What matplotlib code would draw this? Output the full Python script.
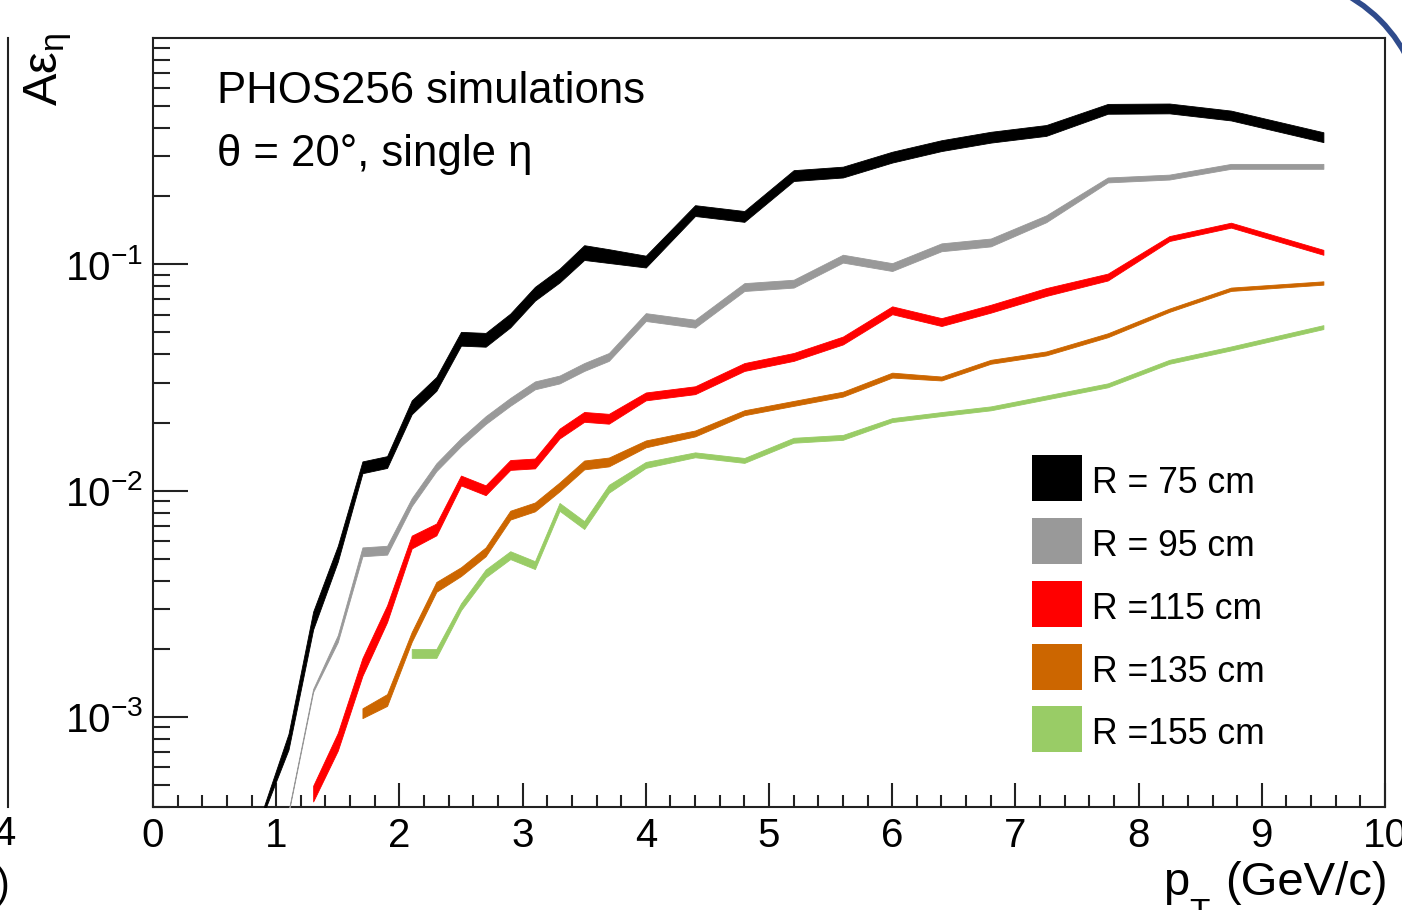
import numpy as np
import matplotlib
matplotlib.use("Agg")
import matplotlib.pyplot as plt
from matplotlib.ticker import FixedLocator, FixedFormatter, LogLocator, NullFormatter, MultipleLocator
from matplotlib.patches import Rectangle, Arc

plt.rcParams['font.family'] = ['Liberation Sans', 'DejaVu Sans']
plt.rcParams['mathtext.fontset'] = 'custom'
plt.rcParams['mathtext.rm'] = 'Liberation Sans'
plt.rcParams['mathtext.it'] = 'Liberation Sans'
plt.rcParams['mathtext.bf'] = 'Liberation Sans:bold'
plt.rcParams['mathtext.sf'] = 'Liberation Sans'

nan = np.nan

# ---------------- data ----------------
pt = [0.9, 1.1, 1.3, 1.5, 1.7, 1.9, 2.1, 2.3, 2.5, 2.7, 2.9, 3.1, 3.3, 3.5, 3.7,
      4.0, 4.4, 4.8, 5.2, 5.6, 6.0, 6.4, 6.8, 7.25, 7.75, 8.25, 8.75, 9.5]

eff_R75 = [3.9e-4, 7.8e-4, 2.68e-3, 5.28e-3, 0.0127, 0.0134, 0.0234, 0.0297, 0.047, 0.0465,
           0.0566, 0.0743, 0.0894, 0.113, 0.109, 0.103, 0.173, 0.163, 0.247, 0.256,
           0.298, 0.335, 0.365, 0.391, 0.487, 0.489, 0.455, 0.365]
err_R75 = [0.03, 0.08, 0.09, 0.08, 0.06, 0.06, 0.07, 0.07, 0.07, 0.07,
           0.07, 0.07, 0.07, 0.075, 0.07, 0.06, 0.055, 0.055, 0.055, 0.055,
           0.055, 0.055, 0.055, 0.055, 0.05, 0.05, 0.05, 0.05]

eff_R95 = [nan, 3.8e-4, 1.31e-3, 2.22e-3, 5.37e-3, 5.46e-3, 8.9e-3, 0.0127, 0.0164, 0.0205,
           0.0247, 0.0292, 0.031, 0.0352, 0.039, 0.0585, 0.0547, 0.0794, 0.0822, 0.106,
           0.0973, 0.119, 0.125, 0.159, 0.236, 0.243, 0.271, 0.271]
err_R95 = [nan, 0.01, 0.015, 0.035, 0.045, 0.045, 0.04, 0.04, 0.04, 0.04,
           0.04, 0.04, 0.04, 0.04, 0.04, 0.04, 0.04, 0.04, 0.04, 0.04,
           0.04, 0.04, 0.04, 0.035, 0.025, 0.025, 0.025, 0.025]

eff_R115 = [nan, nan, 4.6e-4, 7.8e-4, 1.67e-3, 2.87e-3, 5.94e-3, 6.75e-3, 0.0111, 0.01005,
            0.013, 0.0132, 0.0179, 0.0212, 0.0208, 0.0261, 0.0278, 0.0352, 0.039, 0.0461,
            0.0627, 0.0556, 0.0637, 0.0755, 0.0879, 0.130, 0.149, 0.113]
err_R115 = [nan, nan, 0.08, 0.09, 0.09, 0.085, 0.065, 0.06, 0.05, 0.05,
            0.05, 0.05, 0.05, 0.05, 0.05, 0.04, 0.04, 0.04, 0.04, 0.04,
            0.04, 0.04, 0.04, 0.04, 0.035, 0.025, 0.025, 0.025]

eff_R135 = [nan, nan, nan, nan, 1.04e-3, 1.19e-3, 2.26e-3, 3.76e-3, 4.39e-3, 5.37e-3,
            7.8e-3, 8.48e-3, 0.0104, 0.013, 0.0134, 0.0161, 0.0179, 0.0221, 0.0243, 0.0267,
            0.0324, 0.0313, 0.0371, 0.0404, 0.0486, 0.0627, 0.0776, 0.0827]
err_R135 = [nan, nan, nan, nan, 0.05, 0.06, 0.05, 0.05, 0.045, 0.045,
            0.045, 0.045, 0.045, 0.045, 0.045, 0.035, 0.03, 0.025, 0.025, 0.025,
            0.025, 0.02, 0.02, 0.02, 0.02, 0.017, 0.017, 0.017]

eff_R155 = [nan, nan, nan, nan, nan, nan, 1.91e-3, 1.91e-3, 3.07e-3, 4.31e-3,
            5.19e-3, 4.69e-3, 8.48e-3, 7.05e-3, 0.0102, 0.013, 0.0144, 0.0136, 0.0167, 0.0172,
            0.0205, 0.0218, 0.0231, 0.0258, 0.0292, 0.0371, 0.0425, 0.0528]
err_R155 = [nan, nan, nan, nan, nan, nan, 0.045, 0.045, 0.035, 0.04,
            0.04, 0.04, 0.04, 0.04, 0.04, 0.03, 0.025, 0.025, 0.025, 0.025,
            0.02, 0.02, 0.02, 0.02, 0.02, 0.02, 0.02, 0.02]

labels = ["R = 75 cm", "R = 95 cm", "R =115 cm", "R =135 cm", "R =155 cm"]
colors = ["#000000", "#999999", "#ff0000", "#cc6600", "#99cc66"]
series = [(eff_R75, err_R75), (eff_R95, err_R95), (eff_R115, err_R115),
          (eff_R135, err_R135), (eff_R155, err_R155)]

y_major = [1e-3, 1e-2, 1e-1]
y_major_labels = [r"$10^{-3}$", r"$10^{-2}$", r"$10^{-1}$"]
x_major = [0, 1, 2, 3, 4, 5, 6, 7, 8, 9, 10]

# ---------------- figure ----------------
W, H = 1402, 910
fig = plt.figure(figsize=(W / 100, H / 100), dpi=100)
fig.patch.set_facecolor("white")

ax = fig.add_axes([153 / W, 1 - 807 / H, (1385 - 153) / W, (807 - 38) / H])
ax.set_yscale("log")
ax.set_xlim(0, 10)
ax.set_ylim(4.0e-4, 1.0)

x = np.array(pt)
for (eff, err), c in zip(series, colors):
    v = np.array(eff, dtype=float)
    e = np.array(err, dtype=float)
    m = ~np.isnan(v)
    ax.fill_between(x[m], v[m] * (1 - e[m]), v[m] * (1 + e[m]),
                    facecolor=c, edgecolor=c, linewidth=0.6, zorder=3)

for s in ax.spines.values():
    s.set_linewidth(1.5)
    s.set_color("#222222")

ax.xaxis.set_major_locator(FixedLocator(x_major))
ax.xaxis.set_minor_locator(MultipleLocator(0.2))
ax.yaxis.set_major_locator(FixedLocator(y_major))
ax.yaxis.set_major_formatter(FixedFormatter(y_major_labels))
ax.yaxis.set_minor_locator(LogLocator(base=10, subs=np.arange(2, 10), numticks=20))
ax.yaxis.set_minor_formatter(NullFormatter())

ax.tick_params(axis="both", which="both", direction="in", top=False, right=False,
               colors="#222222", labelcolor="black", width=1.5, labelsize=29)
ax.tick_params(axis="x", which="major", length=17.3, pad=7)
ax.tick_params(axis="x", which="minor", length=8.6)
ax.tick_params(axis="y", which="major", length=25.2, pad=7)
ax.tick_params(axis="y", which="minor", length=12.2)

# texts inside the frame
ax.text(217 / W, 1 - 103 / H, "PHOS256 simulations", transform=fig.transFigure,
        fontsize=31.5, ha="left", va="baseline")
ax.text(217 / W, 1 - 166 / H, "θ = 20°, single η", transform=fig.transFigure,
        fontsize=31.5, ha="left", va="baseline")

# overlay in pixel coordinates for titles, legend and neighbouring decorations
ov = fig.add_axes([0, 0, 1, 1], zorder=10)
ov.set_xlim(0, W)
ov.set_ylim(H, 0)
ov.axis("off")
ov.patch.set_alpha(0)

# x-axis title: p_T (GeV/c) with a low ROOT-style subscript
ov.text(1388, 895, "(GeV/c)", fontsize=34, ha="right", va="baseline")
ov.text(1163, 895, "p", fontsize=34, ha="left", va="baseline")
ov.text(1189, 922, "T", fontsize=24, ha="left", va="baseline")

# y-axis title
ov.text(48, 33, r"A$\varepsilon_{\eta}$", fontsize=35, rotation=90,
        ha="center", va="top")

row_y = [478, 541, 604, 667, 729]
for lab, c, yc in zip(labels, colors, row_y):
    ov.add_patch(Rectangle((1032, yc - 23), 50, 46, facecolor=c, edgecolor=c, linewidth=0))
    ov.text(1092, yc + 15, lab, fontsize=25.6, ha="left", va="baseline")

# neighbouring panel (cut off on the left)
ov.plot([8, 8], [38, 807], color="#222222", lw=1.5)
ov.text(4, 845, "4", fontsize=29, ha="center", va="baseline")
ov.text(3, 897, ")", fontsize=30, ha="center", va="baseline")
# blue ring at the top-right corner (cut off)
ov.add_patch(Arc((1276, 124), 294, 294, theta1=270, theta2=360,
                 color="#2f4b8c", linewidth=4))

fig.savefig("out.png", dpi=100)
